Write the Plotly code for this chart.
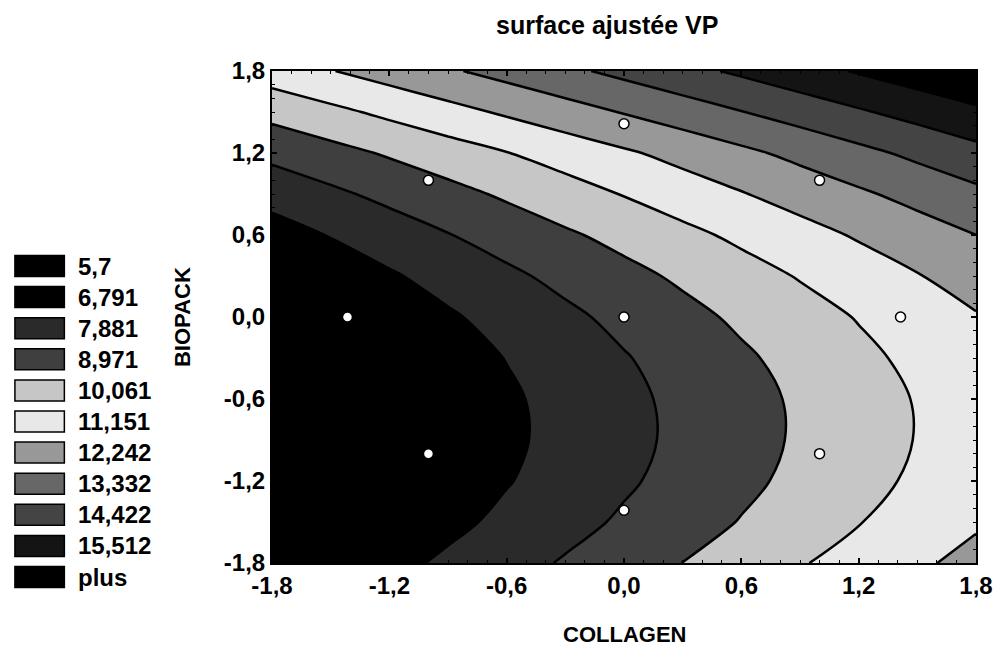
import plotly.graph_objects as go

# ---------------- data ----------------
collagen_grid = [-1.8, -1.5, -1.2, -0.9, -0.6, -0.3, 0.0, 0.3, 0.6, 0.9, 1.2, 1.5, 1.8]
biopack_grid = [-1.8, -1.5, -1.2, -0.9, -0.6, -0.3, 0.0, 0.3, 0.6, 0.9, 1.2, 1.5, 1.8]

# fitted VP surface (rows = BIOPACK, cols = COLLAGEN)
vp_grid = [
    [5.49, 5.98, 6.48, 6.98, 7.48, 7.98, 8.48, 8.98, 9.48, 9.98, 10.48, 10.98, 11.48],
    [5.03, 5.53, 6.03, 6.53, 7.03, 7.53, 8.03, 8.53, 9.02, 9.52, 10.02, 10.52, 11.02],
    [4.74, 5.24, 5.74, 6.23, 6.73, 7.23, 7.73, 8.23, 8.73, 9.23, 9.73, 10.23, 10.73],
    [4.60, 5.10, 5.60, 6.10, 6.60, 7.10, 7.60, 8.10, 8.60, 9.10, 9.60, 10.10, 10.59],
    [4.63, 5.13, 5.63, 6.13, 6.63, 7.13, 7.63, 8.13, 8.62, 9.12, 9.62, 10.12, 10.62],
    [4.82, 5.32, 5.82, 6.32, 6.82, 7.31, 7.81, 8.31, 8.81, 9.31, 9.81, 10.31, 10.81],
    [5.17, 5.66, 6.16, 6.66, 7.16, 7.66, 8.16, 8.66, 9.16, 9.64, 10.12, 10.60, 11.08],
    [5.67, 6.17, 6.67, 7.17, 7.67, 8.17, 8.66, 9.15, 9.64, 10.13, 10.61, 11.10, 11.59],
    [6.34, 6.84, 7.34, 7.84, 8.33, 8.82, 9.30, 9.79, 10.28, 10.77, 11.26, 11.75, 12.24],
    [7.17, 7.67, 8.16, 8.64, 9.13, 9.62, 10.11, 10.60, 11.09, 11.58, 12.08, 12.58, 13.08],
    [8.16, 8.62, 9.09, 9.56, 10.03, 10.51, 11.00, 11.50, 12.01, 12.53, 13.05, 13.57, 14.09],
    [9.30, 9.80, 10.30, 10.80, 11.30, 11.80, 12.30, 12.80, 13.30, 13.80, 14.30, 14.79, 15.29],
    [10.61, 11.11, 11.61, 12.11, 12.61, 13.11, 13.61, 14.11, 14.60, 15.10, 15.60, 16.10, 16.60],
]

# experimental design points
design_collagen = [-1.414, -1.0, -1.0, 0.0, 0.0, 0.0, 1.0, 1.0, 1.414]
design_biopack = [0.0, -1.0, 1.0, -1.414, 0.0, 1.414, -1.0, 1.0, 0.0]

level_start = 5.7
level_end = 15.512
level_step = 1.0902

legend_labels = ["5,7", "6,791", "7,881", "8,971", "10,061", "11,151",
                 "12,242", "13,332", "14,422", "15,512", "plus"]
band_colors = ["#000000", "#000000", "#2a2a2a", "#3f3f3f", "#c6c6c6", "#e8e8e8",
               "#989898", "#676767", "#444444", "#141414", "#000000"]

tick_vals = [-1.8, -1.2, -0.6, 0.0, 0.6, 1.2, 1.8]
tick_text = ["-1,8", "-1,2", "-0,6", "0,0", "0,6", "1,2", "1,8"]

# ---------------- figure ----------------
W, H = 1005, 646
L, R, T, B = 272, 21, 71, 83
pw, ph = W - L - R, H - T - B

def px_x(p):
    return (p - L) / pw

def px_y(p):
    return (H - B - p) / ph

FONT = "Liberation Sans, Arial, sans-serif"

n = len(band_colors)
colorscale = [[i / (n - 1), c] for i, c in enumerate(band_colors)]

fig = go.Figure()
fig.add_trace(go.Contour(
    x=collagen_grid, y=biopack_grid, z=vp_grid,
    colorscale=colorscale, showscale=False,
    contours=dict(start=level_start, end=level_end, size=level_step,
                  coloring="fill", showlines=True),
    line=dict(color="black", width=2.5, smoothing=1),
    hoverinfo="skip",
))
fig.add_trace(go.Scatter(
    x=design_collagen, y=design_biopack, mode="markers",
    marker=dict(size=10, color="white", line=dict(color="black", width=1.5)),
    showlegend=False, hoverinfo="skip",
))

axis_common = dict(
    range=[-1.8, 1.8], tickmode="array", tickvals=tick_vals, ticktext=tick_text,
    showline=True, linecolor="black", linewidth=2, mirror="allticks",
    ticks="inside", ticklen=5, tickcolor="black", tickwidth=1.5,
    showgrid=False, zeroline=False,
    tickfont=dict(family=FONT, size=24, color="black", weight="bold"),
    minor=dict(dtick=0.1, tick0=-1.8, ticks="inside", ticklen=3,
               tickcolor="black", tickwidth=1),
)
fig.update_xaxes(**axis_common)
fig.update_yaxes(**axis_common)

shapes = []
annotations = []
for i, (lab, col) in enumerate(zip(legend_labels, band_colors)):
    cy = 266 + 31.1 * i
    shapes.append(dict(type="rect", xref="paper", yref="paper",
                       x0=px_x(12), x1=px_x(62), y0=px_y(cy + 10.5), y1=px_y(cy - 10.5),
                       fillcolor=col, line=dict(color="black", width=1.5)))
    annotations.append(dict(xref="paper", yref="paper", x=px_x(74), y=px_y(cy),
                            xanchor="left", yanchor="middle", text=lab, showarrow=False,
                            font=dict(family=FONT, size=24, color="black", weight="bold")))

annotations.append(dict(xref="paper", yref="paper", x=px_x(611), y=px_y(25),
                        xanchor="center", yanchor="middle", text="surface ajustée VP",
                        showarrow=False,
                        font=dict(family=FONT, size=25, color="black", weight="bold")))
annotations.append(dict(xref="paper", yref="paper", x=px_x(628), y=px_y(634),
                        xanchor="center", yanchor="middle", text="COLLAGEN",
                        showarrow=False,
                        font=dict(family=FONT, size=22, color="black", weight="bold")))
annotations.append(dict(xref="paper", yref="paper", x=px_x(181), y=px_y(317),
                        xanchor="center", yanchor="middle", text="BIOPACK",
                        showarrow=False, textangle=-90,
                        font=dict(family=FONT, size=22, color="black", weight="bold")))

fig.update_layout(
    width=W, height=H,
    margin=dict(l=L, r=R, t=T, b=B),
    paper_bgcolor="white", plot_bgcolor="white",
    showlegend=False,
    shapes=shapes, annotations=annotations,
)

fig.write_html("out.html")
